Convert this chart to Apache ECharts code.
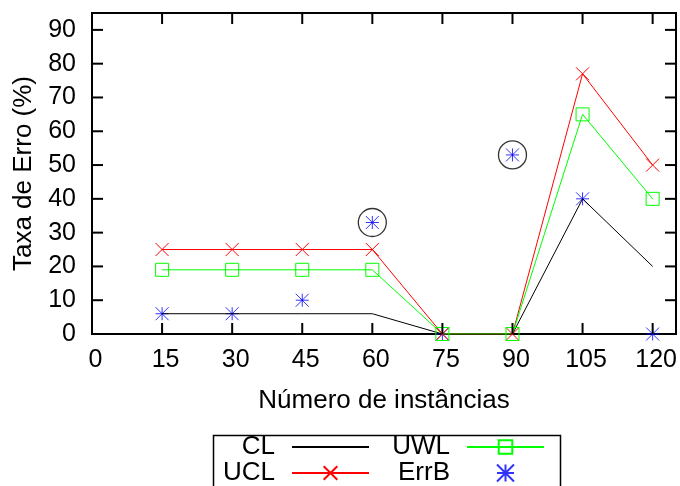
<!DOCTYPE html>
<html>
<head>
<meta charset="utf-8">
<script src="https://cdn.jsdelivr.net/npm/echarts@6/dist/echarts.min.js"></script>
<style>
  html, body { margin: 0; padding: 0; background: #fff; }
  #chart { width: 680px; height: 486px; }
</style>
</head>
<body>
<div id="chart"></div>
<script>
// instancias (eixo x)
var xs = [15, 30, 45, 60, 75, 90, 105, 120];
var cl = [6, 6, 6, 6, 0, 0, 40, 20];
var ucl = [25, 25, 25, 25, 0, 0, 77, 50];
var uwl = [19, 19, 19, 19, 0, 0, 65, 40];
var errB = [6, 6, 10, 33, 0, 53, 40, 0];
// pontos circulados (fora de controle)
var circX = [60, 90];
var circY = [33, 53];
// marcas dos eixos (estilo gnuplot, para dentro, nos quatro lados)
var xTicks = [15, 30, 45, 60, 75, 90, 105, 120];
var yTicks = [10, 20, 30, 40, 50, 60, 70, 80, 90];
var xMax = 125;
var yMax = 95;

function pairs(a, b) {
  var out = [];
  for (let i = 0; i < a.length; i++) out.push([a[i], b[i]]);
  return out;
}

var font = 'Liberation Sans';
var crossPath = 'path://M0,0L10,10M10,0L0,10';
var boxPath = 'path://M0,0L10,0L10,10L0,10Z';
var starPath = 'path://M0,5L10,5M5,0L5,10M0,0L10,10M10,0L0,10';
var tickLen = 11;

var chartDom = document.getElementById('chart');
var myChart = echarts.init(chartDom);
var option;

function legendText() {
  return {
    color: '#000', fontFamily: font, fontSize: 26, lineHeight: 26,
    width: 60, align: 'right', padding: [0, 12, 0, 0]
  };
}

option = {
  animation: false,
  grid: { left: 92, right: 2, top: 13, bottom: 152, show: true, borderColor: '#000', borderWidth: 2 },
  legend: [
    {
      data: ['CL', 'UWL'], left: 215, top: 434, padding: 0,
      align: 'right', itemGap: 20, itemWidth: 77, itemHeight: 17,
      textStyle: legendText(), selectedMode: false
    },
    {
      data: ['UCL', 'ErrB'], left: 215, top: 460, padding: 0,
      align: 'right', itemGap: 20, itemWidth: 77, itemHeight: 17,
      textStyle: legendText(), selectedMode: false
    }
  ],
  graphic: [{
    type: 'rect', left: 211, top: 433,
    shape: { width: 347, height: 70 },
    style: { fill: 'none', stroke: '#000', lineWidth: 1.5 }
  }],
  xAxis: {
    type: 'value', min: 0, max: xMax, interval: 15,
    name: 'Número de instâncias', nameLocation: 'middle', nameGap: 54,
    nameTextStyle: { color: '#000', fontFamily: font, fontSize: 26 },
    axisLine: { show: true, onZero: false, lineStyle: { color: '#000', width: 2 } },
    axisTick: { show: false },
    axisLabel: { color: '#000', fontFamily: font, fontSize: 25, margin: 14, padding: [0, 0, 0, 7], showMaxLabel: false },
    splitLine: { show: false }
  },
  yAxis: {
    type: 'value', min: 0, max: yMax, interval: 10,
    name: 'Taxa de Erro (%)', nameLocation: 'middle', nameGap: 55,
    nameTextStyle: { color: '#000', fontFamily: font, fontSize: 26 },
    axisLine: { show: true, onZero: false, lineStyle: { color: '#000', width: 2 } },
    axisTick: { show: false },
    axisLabel: { color: '#000', fontFamily: font, fontSize: 25, margin: 16, showMaxLabel: false },
    splitLine: { show: false }
  },
  series: [
    {
      name: 'CL', type: 'line', data: pairs(xs, cl),
      symbol: 'circle', showSymbol: false,
      lineStyle: { color: '#000', width: 1 },
      itemStyle: { color: 'rgba(0,0,0,0)', borderWidth: 0 }
    },
    {
      name: 'UCL', type: 'line', data: pairs(xs, ucl),
      symbol: crossPath, symbolSize: 13,
      lineStyle: { color: '#ff0000', width: 1 },
      itemStyle: { color: 'rgba(0,0,0,0)', borderColor: '#ff0000', borderWidth: 1 }
    },
    {
      name: 'UWL', type: 'line', data: pairs(xs, uwl),
      symbol: boxPath, symbolSize: 13,
      lineStyle: { color: '#00ff00', width: 1 },
      itemStyle: { color: 'rgba(0,0,0,0)', borderColor: '#00ff00', borderWidth: 1 }
    },
    {
      name: 'circulos', type: 'scatter', data: pairs(circX, circY),
      symbol: 'circle', symbolSize: 28,
      itemStyle: { color: 'rgba(0,0,0,0)', borderColor: '#000', borderWidth: 1.3 }
    },
    {
      name: 'ErrB', type: 'scatter', data: pairs(xs, errB),
      symbol: starPath, symbolSize: 13,
      itemStyle: { color: 'rgba(0,0,0,0)', borderColor: '#0000ff', borderWidth: 1 }
    }
  ]
};

option && myChart.setOption(option);

// marcas internas: posicoes tiradas das escalas do proprio grafico
var ticks = option.graphic.slice();
function tickLine(p, q) {
  return {
    type: 'line', silent: true, z: 50,
    shape: { x1: p[0], y1: p[1], x2: q[0], y2: q[1] },
    style: { stroke: '#000', lineWidth: 2 }
  };
}
xTicks.forEach(function (v) {
  var b = myChart.convertToPixel({ gridIndex: 0 }, [v, 0]);
  var t = myChart.convertToPixel({ gridIndex: 0 }, [v, yMax]);
  ticks.push(tickLine(b, [b[0], b[1] - tickLen]));
  ticks.push(tickLine(t, [t[0], t[1] + tickLen]));
});
yTicks.forEach(function (v) {
  var l = myChart.convertToPixel({ gridIndex: 0 }, [0, v]);
  var r = myChart.convertToPixel({ gridIndex: 0 }, [xMax, v]);
  ticks.push(tickLine(l, [l[0] + tickLen, l[1]]));
  ticks.push(tickLine(r, [r[0] - tickLen, r[1]]));
});
myChart.setOption({ graphic: ticks });
</script>
</body>
</html>
